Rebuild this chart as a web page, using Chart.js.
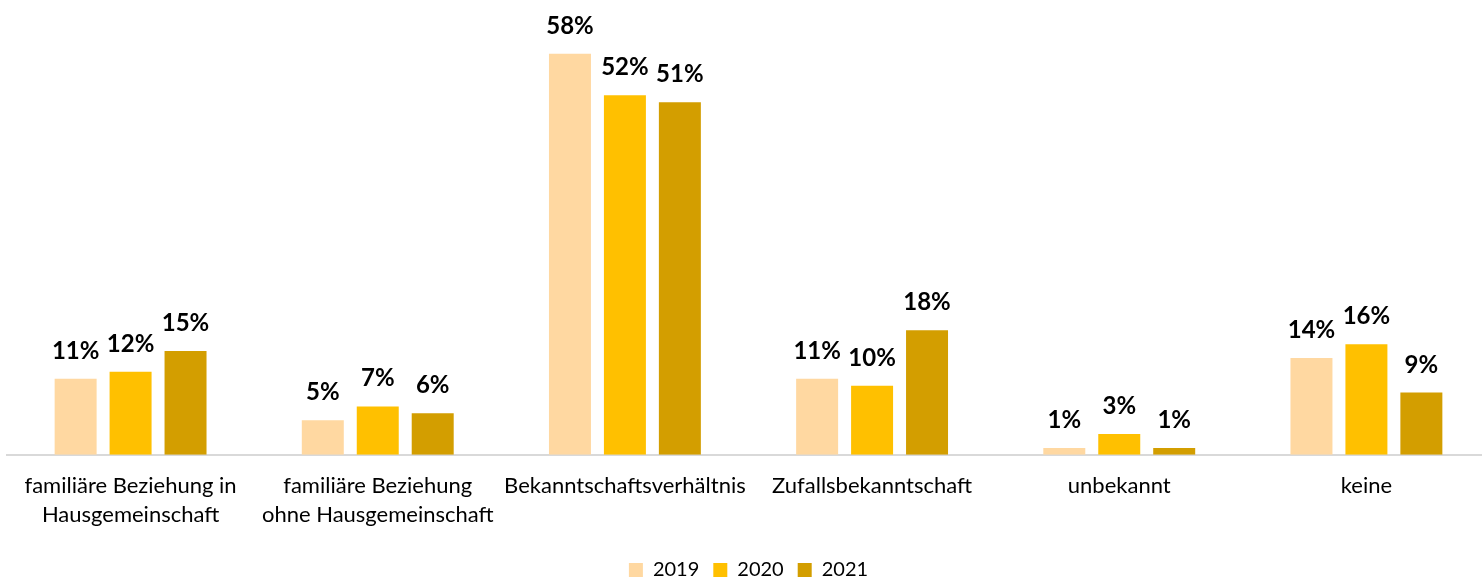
<!DOCTYPE html>
<html>
<head>
<meta charset="utf-8">
<script src="https://cdn.jsdelivr.net/npm/chart.js@4"></script>
<style>
    html, body { margin: 0; padding: 0; background: #fff; overflow: hidden; }
    #wrap { width: 1490px; height: 590px; position: relative; }
</style>
</head>
<body>
<div id="wrap"><canvas id="chart"></canvas></div>
<script>
// Beziehung Täter/Opfer, Anteile in Prozent
const categories = [
    ['familiäre Beziehung in', 'Hausgemeinschaft'],
    ['familiäre Beziehung', 'ohne Hausgemeinschaft'],
    'Bekanntschaftsverhältnis',
    'Zufallsbekanntschaft',
    'unbekannt',
    'keine'
];
const years = ['2019', '2020', '2021'];
const values2019 = [11, 5, 58, 11, 1, 14];
const values2020 = [12, 7, 52, 10, 3, 16];
const values2021 = [15, 6, 51, 18, 1, 9];
const colors = ['#FFD8A1', '#FFC000', '#D39E00'];

// draw the percent labels above each bar
const barLabels = {
    id: 'barLabels',
    afterDatasetsDraw(chart) {
        const ctx = chart.ctx;
        ctx.save();
        ctx.font = 'bold 24px Lato, sans-serif';
        ctx.fillStyle = '#000';
        ctx.textAlign = 'center';
        ctx.textBaseline = 'alphabetic';
        chart.data.datasets.forEach((ds, i) => {
            chart.getDatasetMeta(i).data.forEach((bar, j) => {
                ctx.fillText(ds.data[j] + '%', bar.x, bar.y - 20);
            });
        });
        ctx.restore();
    }
};

new Chart(document.getElementById('chart'), {
    type: 'bar',
    data: {
        labels: categories,
        datasets: [
            { label: years[0], data: values2019, backgroundColor: colors[0] },
            { label: years[1], data: values2020, backgroundColor: colors[1] },
            { label: years[2], data: values2021, backgroundColor: colors[2] }
        ]
    },
    options: {
        responsive: true,
        maintainAspectRatio: false,
        animation: false,
        categoryPercentage: 0.667,
        barPercentage: 0.764,
        layout: { padding: { left: 7, right: 0, top: 40, bottom: 0 } },
        plugins: {
            legend: {
                position: 'bottom',
                labels: {
                    boxWidth: 14,
                    boxHeight: 14,
                    padding: 14,
                    color: '#000',
                    font: { family: 'Lato, sans-serif', size: 20 }
                }
            },
            tooltip: { enabled: false }
        },
        scales: {
            x: {
                grid: { display: false, drawTicks: false },
                border: { color: '#D9D9D9', width: 2 },
                ticks: {
                    color: '#000',
                    padding: 17,
                    maxRotation: 0,
                    autoSkip: false,
                    font: { family: 'Lato, sans-serif', size: 22, lineHeight: 1.3 }
                }
            },
            y: {
                display: false,
                beginAtZero: true,
                min: 0,
                max: 60
            }
        }
    },
    plugins: [barLabels]
});
</script>
</body>
</html>
